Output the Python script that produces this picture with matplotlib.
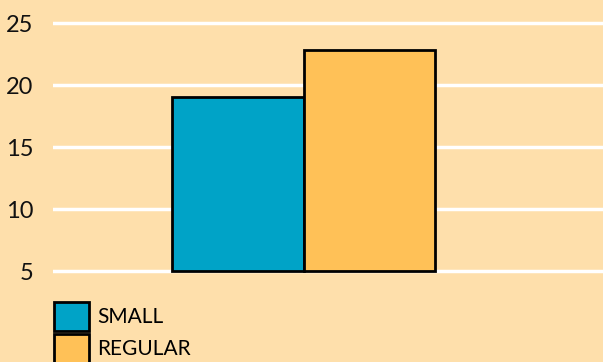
import matplotlib.pyplot as plt
from matplotlib.patches import Patch

# Data
categories = ["SMALL", "REGULAR"]
values = [19.0, 22.8]
baseline = 5
yTicks = [5, 10, 15, 20, 25]

# Colours
bgColour = "#FEDFAB"
barColours = ["#00A3C7", "#FFC157"]
edgeColour = "black"
fontsize = 17

plt.rcParams['font.family'] = ['Lato', 'DejaVu Sans']

fig = plt.figure(figsize=(6.03, 3.62), dpi=100)
fig.patch.set_facecolor(bgColour)

# Axes placed to match reference pixel layout
ax = fig.add_axes([53/603, (362-273.5)/362, 550/603, 273.5/362])
ax.set_facecolor(bgColour)

positions = list(range(len(categories)))
heights = [v - baseline for v in values]
bars = ax.bar(positions, heights, bottom=baseline, width=1.0, color=barColours,
              edgecolor=edgeColour, linewidth=2, zorder=3)

ax.set_xlim(-1.40, 2.77)
ax.set_ylim(4.8, 4.8 + 273.5/12.4)
ax.set_yticks(yTicks)
ax.yaxis.grid(True, color="white", linewidth=2.5, zorder=0)
ax.tick_params(axis="y", length=0, pad=14, labelsize=fontsize, labelcolor="#111111")
ax.set_xticks([])
for spine in ax.spines.values():
    spine.set_visible(False)

# Legend at the bottom left
handles = [Patch(facecolor=c, edgecolor=edgeColour, linewidth=2) for c in barColours]
fig.legend(handles, categories, loc="upper left", bbox_to_anchor=(54/603, 1 - 302/362),
           frameon=False, fontsize=15, handlelength=1.68, handleheight=1.77,
           handletextpad=0.38, labelspacing=0.15, borderaxespad=0, borderpad=0)

fig.savefig("out.png", dpi=100, facecolor=bgColour)
